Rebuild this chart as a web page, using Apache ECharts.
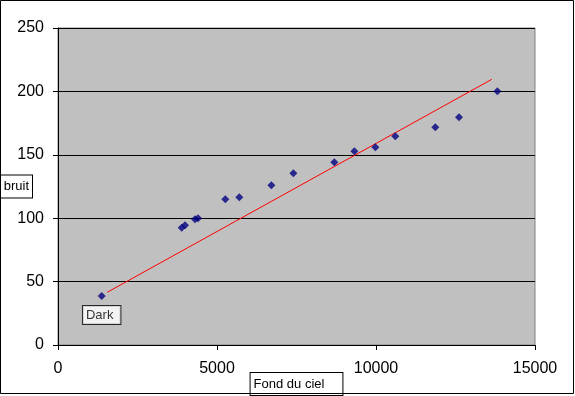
<!DOCTYPE html>
<html><head><meta charset="utf-8">
<script src="https://cdn.jsdelivr.net/npm/echarts@6/dist/echarts.min.js"></script>
<style>html,body{margin:0;padding:0;background:#fff}#c{width:575px;height:396px}</style>
</head><body><div id="c"></div>
<script>
var fondDuCiel = [1374, 3890, 3994, 4308, 4403, 5262, 5702, 6710, 7401, 8690, 9319, 9980, 10608, 11866, 12611, 13816];
var bruit      = [38.6, 92.5, 94.4, 99.1, 99.9, 114.9, 116.5, 125.9, 135.4, 144.1, 152.8, 155.9, 164.6, 171.7, 179.6, 200.1];
var trendX = [1550, 13640];
var trendY = [41.6, 209.5];
var xTicks = [0, 5000, 10000, 15000];
var yTicks = [0, 50, 100, 150, 200, 250];
var pointLabels = ['Dark'];

var FONT = 'Liberation Sans, Arial, sans-serif';
var chart = echarts.init(document.getElementById('c'), null, {renderer: 'canvas'});
var pts = fondDuCiel.map(function (x, i) {
  var d = {value: [x, bruit[i]]};
  if (i === 0) {
    d.label = {show: true, position: 'bottom', distance: 6, formatter: pointLabels[0],
      fontFamily: FONT, fontSize: 13, color: '#000', backgroundColor: '#fff',
      borderColor: '#000', borderWidth: 1, padding: [2, 7, 2, 3], lineHeight: 14};
  }
  return d;
});
function plain(v) { return String(v); }
chart.setOption({
  animation: false,
  backgroundColor: '#fff',
  grid: {left: 58, right: 40, top: 28, bottom: 51, containLabel: false, outerBoundsMode: 'none',
         show: true, backgroundColor: '#C0C0C0', borderColor: '#808080', borderWidth: 1},
  xAxis: {
    type: 'value', min: xTicks[0], max: xTicks[xTicks.length - 1], interval: 5000,
    name: 'Fond du ciel', nameLocation: 'middle', nameGap: 28, nameMoveOverlap: false,
    nameTextStyle: {fontFamily: FONT, fontSize: 13, color: '#000', backgroundColor: '#fff', borderColor: '#000', borderWidth: 1, padding: [4, 18, 4, 3], lineHeight: 14},
    axisLine: {show: true, onZero: false, lineStyle: {color: '#000', width: 1}},
    axisTick: {show: true, length: 5, lineStyle: {color: '#000'}},
    axisLabel: {fontFamily: FONT, fontSize: 16, color: '#000', margin: 16, formatter: plain},
    splitLine: {show: false}
  },
  yAxis: {
    type: 'value', min: yTicks[0], max: yTicks[yTicks.length - 1], interval: 50,
    name: 'bruit', nameLocation: 'middle', nameRotate: 0, nameGap: 26, nameMoveOverlap: false,
    nameTextStyle: {fontFamily: FONT, fontSize: 13, color: '#000', backgroundColor: '#fff', borderColor: '#000', borderWidth: 1, padding: [2, 3, 6, 3], lineHeight: 14},
    axisLine: {show: true, onZero: false, lineStyle: {color: '#000', width: 1}},
    axisTick: {show: true, length: 5, lineStyle: {color: '#000'}},
    axisLabel: {fontFamily: FONT, fontSize: 16, color: '#000', margin: 14, formatter: plain},
    splitLine: {show: true, lineStyle: {color: '#000', width: 1}}
  },
  series: [
    {type: 'line', data: trendX.map(function (x, i) { return [x, trendY[i]]; }), symbol: 'none',
     lineStyle: {color: '#FF0000', width: 1}, z: 2, silent: true},
    {type: 'scatter', data: pts, symbol: 'diamond', symbolSize: 8,
     itemStyle: {color: '#000080'}, z: 3}
  ],
  graphic: [{type: 'rect', shape: {x: 0.5, y: 0.5, width: 573, height: 393}, style: {fill: 'none', stroke: '#000', lineWidth: 1}, z: 100}]
});
</script></body></html>
